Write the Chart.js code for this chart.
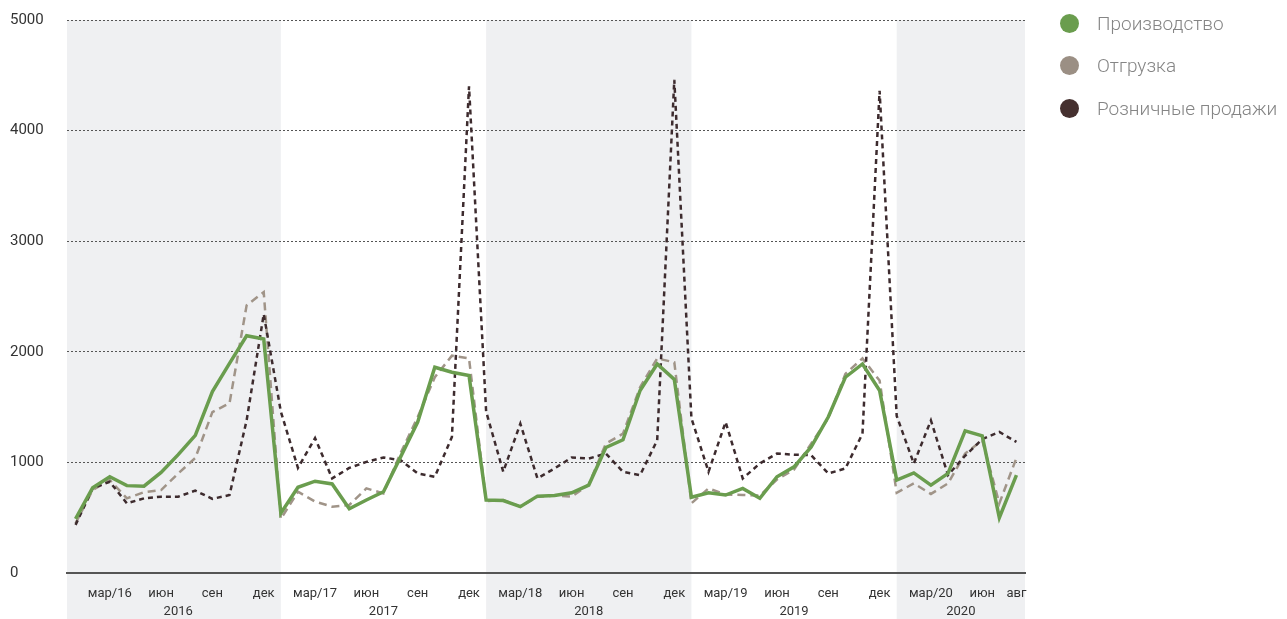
<!DOCTYPE html>
<html lang="ru">
<head>
<meta charset="utf-8">
<title>Производство, отгрузка и розничные продажи</title>
<script src="https://cdn.jsdelivr.net/npm/chart.js@4.4.1/dist/chart.umd.min.js"></script>
<style>
  html, body { margin: 0; padding: 0; background: #fff; }
  #wrap { position: relative; width: 1287px; height: 619px; }
  #grafico { position: absolute; left: 0; top: 0; }
  #legenda { position: absolute; left: 1060px; top: 2px; font-family: Roboto, "Noto Sans", sans-serif; font-weight: 300; font-size: 19px; color: #858585; }
  .item { display: flex; align-items: center; height: 42.5px; white-space: nowrap; }
  .bola { width: 19px; height: 19px; border-radius: 50%; margin-right: 18px; }
</style>
</head>
<body>
<div id="wrap">
  <canvas id="grafico" width="1287" height="619"></canvas>
  <div id="legenda"></div>
</div>
<script>
// Категории (месяцы янв 2016 - авг 2020)
const meses = [
  "янв/16","фев/16","мар/16","апр/16","май/16","июн/16","июл/16","авг/16","сен/16","окт/16","ноя/16","дек/16",
  "янв/17","фев/17","мар/17","апр/17","май/17","июн/17","июл/17","авг/17","сен/17","окт/17","ноя/17","дек/17",
  "янв/18","фев/18","мар/18","апр/18","май/18","июн/18","июл/18","авг/18","сен/18","окт/18","ноя/18","дек/18",
  "янв/19","фев/19","мар/19","апр/19","май/19","июн/19","июл/19","авг/19","сен/19","окт/19","ноя/19","дек/19",
  "янв/20","фев/20","мар/20","апр/20","май/20","июн/20","июл/20","авг/20"
];

// Подписи оси X (пустые строки не показываются)
const rotulosX = [
  "","","мар/16","","","июн","","","сен","","","дек",
  "","","мар/17","","","июн","","","сен","","","дек",
  "","","мар/18","","","июн","","","сен","","","дек",
  "","","мар/19","","","июн","","","сен","","","дек",
  "","","мар/20","","","июн","","авг"
];

const anos = ["2016", "2017", "2018", "2019", "2020"];
const inicioAno = [0, 12, 24, 36, 48]; // индекс января каждого года
const anosSombreados = ["2016", "2018", "2020"];

const rotulosY = [0, 1000, 2000, 3000, 4000, 5000];

const producao = [
  490, 770, 870, 790, 785, 910, 1070, 1245, 1640, 1895, 2145, 2115,
  540, 775, 830, 805, 580, 660, 735, 1050, 1365, 1860, 1815, 1785,
  660, 655, 600, 695, 700, 725, 795, 1135, 1205, 1650, 1890, 1750,
  685, 725, 705, 765, 675, 870, 960, 1140, 1410, 1770, 1890, 1650,
  840, 905, 795, 900, 1285, 1240, 500, 885
];

const embarque = [
  450, 750, 840, 675, 730, 750, 900, 1040, 1455, 1535, 2420, 2540,
  490, 735, 645, 600, 615, 765, 720, 1085, 1410, 1770, 1965, 1940,
  650, 660, 600, 690, 700, 690, 800, 1170, 1260, 1680, 1940, 1905,
  630, 765, 710, 705, 700, 845, 935, 1170, 1400, 1800, 1940, 1740,
  725, 810, 715, 810, 1080, 1200, 630, 1040
];

const varejo = [
  435, 765, 825, 630, 675, 690, 690, 745, 670, 705, 1380, 2340,
  1460, 950, 1220, 855, 950, 1005, 1045, 1020, 900, 870, 1230, 4400,
  1460, 915, 1350, 855, 945, 1045, 1035, 1080, 915, 885, 1200, 4460,
  1400, 915, 1365, 855, 990, 1080, 1070, 1065, 900, 945, 1260, 4360,
  1420, 990, 1380, 885, 1060, 1210, 1275, 1185
];

const series = [
  { nome: "Производство", dados: producao, cor: "#6a9d4e", legenda: "#6a9d4e", largura: 3.5, traco: [], ordem: 0 },
  { nome: "Отгрузка", dados: embarque, cor: "#a09488", legenda: "#9b8f84", largura: 2.5, traco: [8, 5], ordem: 2 },
  { nome: "Розничные продажи", dados: varejo, cor: "#3d2b2e", legenda: "#45302f", largura: 2.5, traco: [5, 4], ordem: 1 }
];

// Фон по годам + подписи годов
const pluginAnos = {
  id: "anos",
  beforeDraw(chart) {
    const { ctx, chartArea, scales } = chart;
    const x = scales.x;
    ctx.save();
    ctx.fillStyle = "#eff0f2";
    anos.forEach((ano, i) => {
      if (!anosSombreados.includes(ano)) return;
      const ini = i === 0 ? chartArea.left : x.getPixelForValue(inicioAno[i]);
      const fim = i === anos.length - 1 ? chartArea.right : x.getPixelForValue(inicioAno[i + 1]);
      ctx.fillRect(ini, chartArea.top, fim - ini, chart.height - chartArea.top);
    });
    ctx.restore();
  },
  afterDraw(chart) {
    const { ctx, chartArea, scales } = chart;
    const x = scales.x;
    ctx.save();
    ctx.font = "13px Roboto, 'Noto Sans', sans-serif";
    ctx.fillStyle = "#333";
    ctx.textAlign = "center";
    ctx.textBaseline = "middle";
    anos.forEach((ano, i) => {
      const ini = x.getPixelForValue(inicioAno[i]);
      const fim = i === anos.length - 1 ? chartArea.right : x.getPixelForValue(inicioAno[i + 1]);
      ctx.fillText(ano, (ini + fim) / 2, 612);
    });
    ctx.restore();
  }
};

const ctx = document.getElementById("grafico").getContext("2d");

new Chart(ctx, {
  type: "line",
  data: {
    labels: meses,
    datasets: series.map((s) => ({
      label: s.nome,
      data: s.dados,
      borderColor: s.cor,
      backgroundColor: s.legenda,
      borderWidth: s.largura,
      borderDash: s.traco,
      pointRadius: 0,
      tension: 0,
      fill: false,
      order: s.ordem,
    })),
  },
  options: {
    responsive: false,
    animation: false,
    layout: { padding: { left: 10, right: 262, top: 20, bottom: 0 } },
    plugins: {
      legend: { display: false },
      tooltip: { enabled: false },
    },
    scales: {
      x: {
        offset: true,
        grid: { display: false, drawTicks: false },
        border: { display: true, color: "#555", width: 2 },
        ticks: {
          autoSkip: false,
          maxRotation: 0,
          padding: 13,
          color: "#333",
          font: { family: "Roboto, 'Noto Sans', sans-serif", size: 13 },
          callback: (v, i) => rotulosX[i],
        },
        afterFit: (scale) => { scale.height = 46; },
      },
      y: {
        min: 0,
        max: 5000,
        afterBuildTicks: (scale) => { scale.ticks = rotulosY.map((v) => ({ value: v })); },
        grid: {
          color: (c) => (c.tick && c.tick.value === 0 ? "rgba(0,0,0,0)" : "#555"),
          lineWidth: 1,
          drawTicks: false,
        },
        border: { display: false, dash: [2, 2] },
        ticks: {
          crossAlign: "far",
          padding: 10,
          color: "#333",
          font: { family: "Roboto, 'Noto Sans', sans-serif", size: 15 },
          callback: (v) => String(v),
        },
        afterFit: (scale) => { scale.width = 57; },
      },
    },
  },
  plugins: [pluginAnos],
});

// Легенда
const legenda = document.getElementById("legenda");
series.forEach((s) => {
  const div = document.createElement("div");
  div.className = "item";
  div.innerHTML = `<span class="bola" style="background:${s.legenda}"></span><span>${s.nome}</span>`;
  legenda.appendChild(div);
});
</script>
</body>
</html>
